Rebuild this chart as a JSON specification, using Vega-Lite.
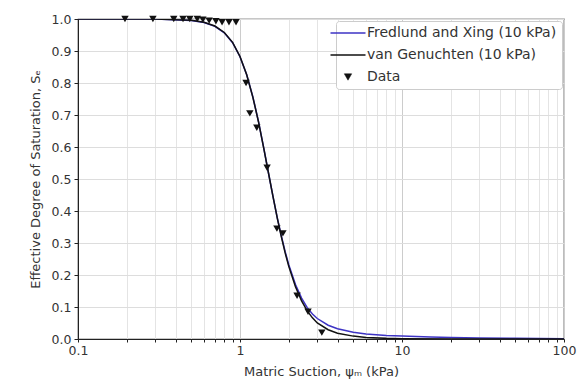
{
  "$schema": "https://vega.github.io/schema/vega-lite/v6.json",
  "autosize": "none",
  "width": 486,
  "height": 320,
  "padding": {"left": 78, "top": 19, "right": 16, "bottom": 48},
  "background": "white",
  "config": {
    "font": "DejaVu Sans",
    "view": {"stroke": "#222", "strokeWidth": 1.2},
    "axis": {"labelFont": "DejaVu Sans", "titleFont": "DejaVu Sans", "labelFontSize": 12.5, "titleFontSize": 13, "titleFontWeight": "normal", "labelColor": "#333", "titleColor": "#333", "domainColor": "#222", "tickColor": "#222"}
  },
  "datasets": {
    "curves": [
      {"model": "Fredlund and Xing (10 kPa)", "s": 0.1, "S": 1.0},
      {"model": "Fredlund and Xing (10 kPa)", "s": 0.3, "S": 0.9997},
      {"model": "Fredlund and Xing (10 kPa)", "s": 0.5, "S": 0.995},
      {"model": "Fredlund and Xing (10 kPa)", "s": 0.6, "S": 0.989},
      {"model": "Fredlund and Xing (10 kPa)", "s": 0.7, "S": 0.977},
      {"model": "Fredlund and Xing (10 kPa)", "s": 0.8, "S": 0.957},
      {"model": "Fredlund and Xing (10 kPa)", "s": 0.9, "S": 0.926},
      {"model": "Fredlund and Xing (10 kPa)", "s": 1.0, "S": 0.882},
      {"model": "Fredlund and Xing (10 kPa)", "s": 1.1, "S": 0.826},
      {"model": "Fredlund and Xing (10 kPa)", "s": 1.2, "S": 0.757},
      {"model": "Fredlund and Xing (10 kPa)", "s": 1.3, "S": 0.68},
      {"model": "Fredlund and Xing (10 kPa)", "s": 1.4, "S": 0.598},
      {"model": "Fredlund and Xing (10 kPa)", "s": 1.5, "S": 0.518},
      {"model": "Fredlund and Xing (10 kPa)", "s": 1.6, "S": 0.444},
      {"model": "Fredlund and Xing (10 kPa)", "s": 1.7, "S": 0.378},
      {"model": "Fredlund and Xing (10 kPa)", "s": 1.8, "S": 0.322},
      {"model": "Fredlund and Xing (10 kPa)", "s": 1.9, "S": 0.273},
      {"model": "Fredlund and Xing (10 kPa)", "s": 2.0, "S": 0.232},
      {"model": "Fredlund and Xing (10 kPa)", "s": 2.2, "S": 0.17},
      {"model": "Fredlund and Xing (10 kPa)", "s": 2.4, "S": 0.128},
      {"model": "Fredlund and Xing (10 kPa)", "s": 2.6, "S": 0.098},
      {"model": "Fredlund and Xing (10 kPa)", "s": 2.8, "S": 0.078},
      {"model": "Fredlund and Xing (10 kPa)", "s": 3.0, "S": 0.064},
      {"model": "Fredlund and Xing (10 kPa)", "s": 3.5, "S": 0.043},
      {"model": "Fredlund and Xing (10 kPa)", "s": 4.0, "S": 0.032},
      {"model": "Fredlund and Xing (10 kPa)", "s": 5.0, "S": 0.021},
      {"model": "Fredlund and Xing (10 kPa)", "s": 6.0, "S": 0.016},
      {"model": "Fredlund and Xing (10 kPa)", "s": 8.0, "S": 0.011},
      {"model": "Fredlund and Xing (10 kPa)", "s": 10, "S": 0.009},
      {"model": "Fredlund and Xing (10 kPa)", "s": 15, "S": 0.006},
      {"model": "Fredlund and Xing (10 kPa)", "s": 20, "S": 0.005},
      {"model": "Fredlund and Xing (10 kPa)", "s": 30, "S": 0.003},
      {"model": "Fredlund and Xing (10 kPa)", "s": 50, "S": 0.002},
      {"model": "Fredlund and Xing (10 kPa)", "s": 100, "S": 0.0005},
      {"model": "van Genuchten (10 kPa)", "s": 0.1, "S": 1.0},
      {"model": "van Genuchten (10 kPa)", "s": 0.3, "S": 0.9997},
      {"model": "van Genuchten (10 kPa)", "s": 0.5, "S": 0.9958},
      {"model": "van Genuchten (10 kPa)", "s": 0.6, "S": 0.9897},
      {"model": "van Genuchten (10 kPa)", "s": 0.7, "S": 0.978},
      {"model": "van Genuchten (10 kPa)", "s": 0.8, "S": 0.958},
      {"model": "van Genuchten (10 kPa)", "s": 0.9, "S": 0.927},
      {"model": "van Genuchten (10 kPa)", "s": 1.0, "S": 0.883},
      {"model": "van Genuchten (10 kPa)", "s": 1.1, "S": 0.826},
      {"model": "van Genuchten (10 kPa)", "s": 1.2, "S": 0.756},
      {"model": "van Genuchten (10 kPa)", "s": 1.3, "S": 0.679},
      {"model": "van Genuchten (10 kPa)", "s": 1.4, "S": 0.597},
      {"model": "van Genuchten (10 kPa)", "s": 1.5, "S": 0.518},
      {"model": "van Genuchten (10 kPa)", "s": 1.6, "S": 0.444},
      {"model": "van Genuchten (10 kPa)", "s": 1.7, "S": 0.377},
      {"model": "van Genuchten (10 kPa)", "s": 1.8, "S": 0.319},
      {"model": "van Genuchten (10 kPa)", "s": 1.9, "S": 0.269},
      {"model": "van Genuchten (10 kPa)", "s": 2.0, "S": 0.227},
      {"model": "van Genuchten (10 kPa)", "s": 2.2, "S": 0.163},
      {"model": "van Genuchten (10 kPa)", "s": 2.4, "S": 0.119},
      {"model": "van Genuchten (10 kPa)", "s": 2.6, "S": 0.088},
      {"model": "van Genuchten (10 kPa)", "s": 2.8, "S": 0.066},
      {"model": "van Genuchten (10 kPa)", "s": 3.0, "S": 0.05},
      {"model": "van Genuchten (10 kPa)", "s": 3.5, "S": 0.029},
      {"model": "van Genuchten (10 kPa)", "s": 4.0, "S": 0.018},
      {"model": "van Genuchten (10 kPa)", "s": 5.0, "S": 0.009},
      {"model": "van Genuchten (10 kPa)", "s": 6.0, "S": 0.005},
      {"model": "van Genuchten (10 kPa)", "s": 8.0, "S": 0.002},
      {"model": "van Genuchten (10 kPa)", "s": 10, "S": 0.001},
      {"model": "van Genuchten (10 kPa)", "s": 20, "S": 0.0003},
      {"model": "van Genuchten (10 kPa)", "s": 100, "S": 0.0}
    ],
    "points": [
      {"model": "Data", "s": 0.195, "S": 1.0},
      {"model": "Data", "s": 0.29, "S": 1.0},
      {"model": "Data", "s": 0.39, "S": 1.0},
      {"model": "Data", "s": 0.445, "S": 1.0},
      {"model": "Data", "s": 0.49, "S": 1.0},
      {"model": "Data", "s": 0.545, "S": 1.0},
      {"model": "Data", "s": 0.59, "S": 0.998},
      {"model": "Data", "s": 0.645, "S": 0.995},
      {"model": "Data", "s": 0.71, "S": 0.993},
      {"model": "Data", "s": 0.775, "S": 0.99},
      {"model": "Data", "s": 0.855, "S": 0.99},
      {"model": "Data", "s": 0.945, "S": 0.99},
      {"model": "Data", "s": 1.09, "S": 0.8},
      {"model": "Data", "s": 1.15, "S": 0.705},
      {"model": "Data", "s": 1.27, "S": 0.66},
      {"model": "Data", "s": 1.47, "S": 0.535},
      {"model": "Data", "s": 1.69, "S": 0.345},
      {"model": "Data", "s": 1.84, "S": 0.33},
      {"model": "Data", "s": 2.25, "S": 0.135},
      {"model": "Data", "s": 2.63, "S": 0.085},
      {"model": "Data", "s": 3.2, "S": 0.02}
    ]
  },
  "encoding": {
    "x": {
      "field": "s", "type": "quantitative",
      "scale": {"type": "log", "domain": [0.1, 100], "nice": false},
      "axis": {
        "title": "Matric Suction, ψₘ (kPa)",
        "values": [0.1, 0.2, 0.3, 0.4, 0.5, 0.6, 0.7, 0.8, 0.9, 1, 2, 3, 4, 5, 6, 7, 8, 9, 10, 20, 30, 40, 50, 60, 70, 80, 90, 100],
        "format": "~g",
        "labelExpr": "indexof([0.1, 1, 10, 100], datum.value) >= 0 ? datum.label : ''",
        "labelOverlap": false,
        "labelFlush": false,
        "labelPadding": 2,
        "tickSize": 3,
        "gridColor": {"condition": {"test": "indexof([0.1, 1, 10, 100], datum.value) >= 0", "value": "#cccccc"}, "value": "#e4e4e4"},
        "titlePadding": 9
      }
    },
    "y": {
      "field": "S", "type": "quantitative",
      "scale": {"domain": [0, 1], "nice": false},
      "axis": {
        "title": "Effective Degree of Saturation, Sₑ",
        "values": [0, 0.1, 0.2, 0.3, 0.4, 0.5, 0.6, 0.7, 0.8, 0.9, 1.0],
        "format": ".1f",
        "labelFlush": false,
        "tickSize": 4,
        "labelPadding": 3,
        "gridColor": "#dddddd",
        "titlePadding": 9
      }
    },
    "color": {
      "field": "model", "type": "nominal",
      "scale": {"domain": ["Fredlund and Xing (10 kPa)", "van Genuchten (10 kPa)", "Data"], "range": ["#3d33c4", "#111111", "#111111"]},
      "legend": {
        "title": null,
        "orient": "top-right",
        "offset": 2,
        "padding": 5,
        "strokeColor": "#cccccc",
        "fillColor": "white",
        "cornerRadius": 3,
        "labelFont": "DejaVu Sans",
        "labelFontSize": 14,
        "labelColor": "#333",
        "labelLimit": 320,
        "symbolType": "stroke",
        "symbolSize": 1225,
        "symbolStrokeWidth": 1.5,
        "labelOffset": 12,
        "rowPadding": 8,
        "encode": {
          "symbols": {
            "update": {
              "shape": {"signal": "datum.value === 'Data' ? 'triangle-down' : 'stroke'"},
              "size": {"signal": "datum.value === 'Data' ? 55 : 1225"},
              "fill": {"signal": "datum.value === 'Data' ? '#111111' : 'transparent'"},
              "strokeWidth": {"signal": "datum.value === 'Data' ? 0.5 : 1.5"}
            }
          }
        }
      }
    }
  },
  "layer": [
    {
      "data": {"name": "curves"},
      "transform": [{"filter": "datum.model === 'Fredlund and Xing (10 kPa)'"}],
      "mark": {"type": "line", "strokeWidth": 1.5, "clip": true}
    },
    {
      "data": {"name": "curves"},
      "transform": [{"filter": "datum.model === 'van Genuchten (10 kPa)'"}],
      "mark": {"type": "line", "strokeWidth": 1.5, "clip": true}
    },
    {
      "data": {"name": "points"},
      "mark": {"type": "point", "shape": "triangle-down", "filled": true, "size": 55, "opacity": 1, "clip": false}
    }
  ]
}
